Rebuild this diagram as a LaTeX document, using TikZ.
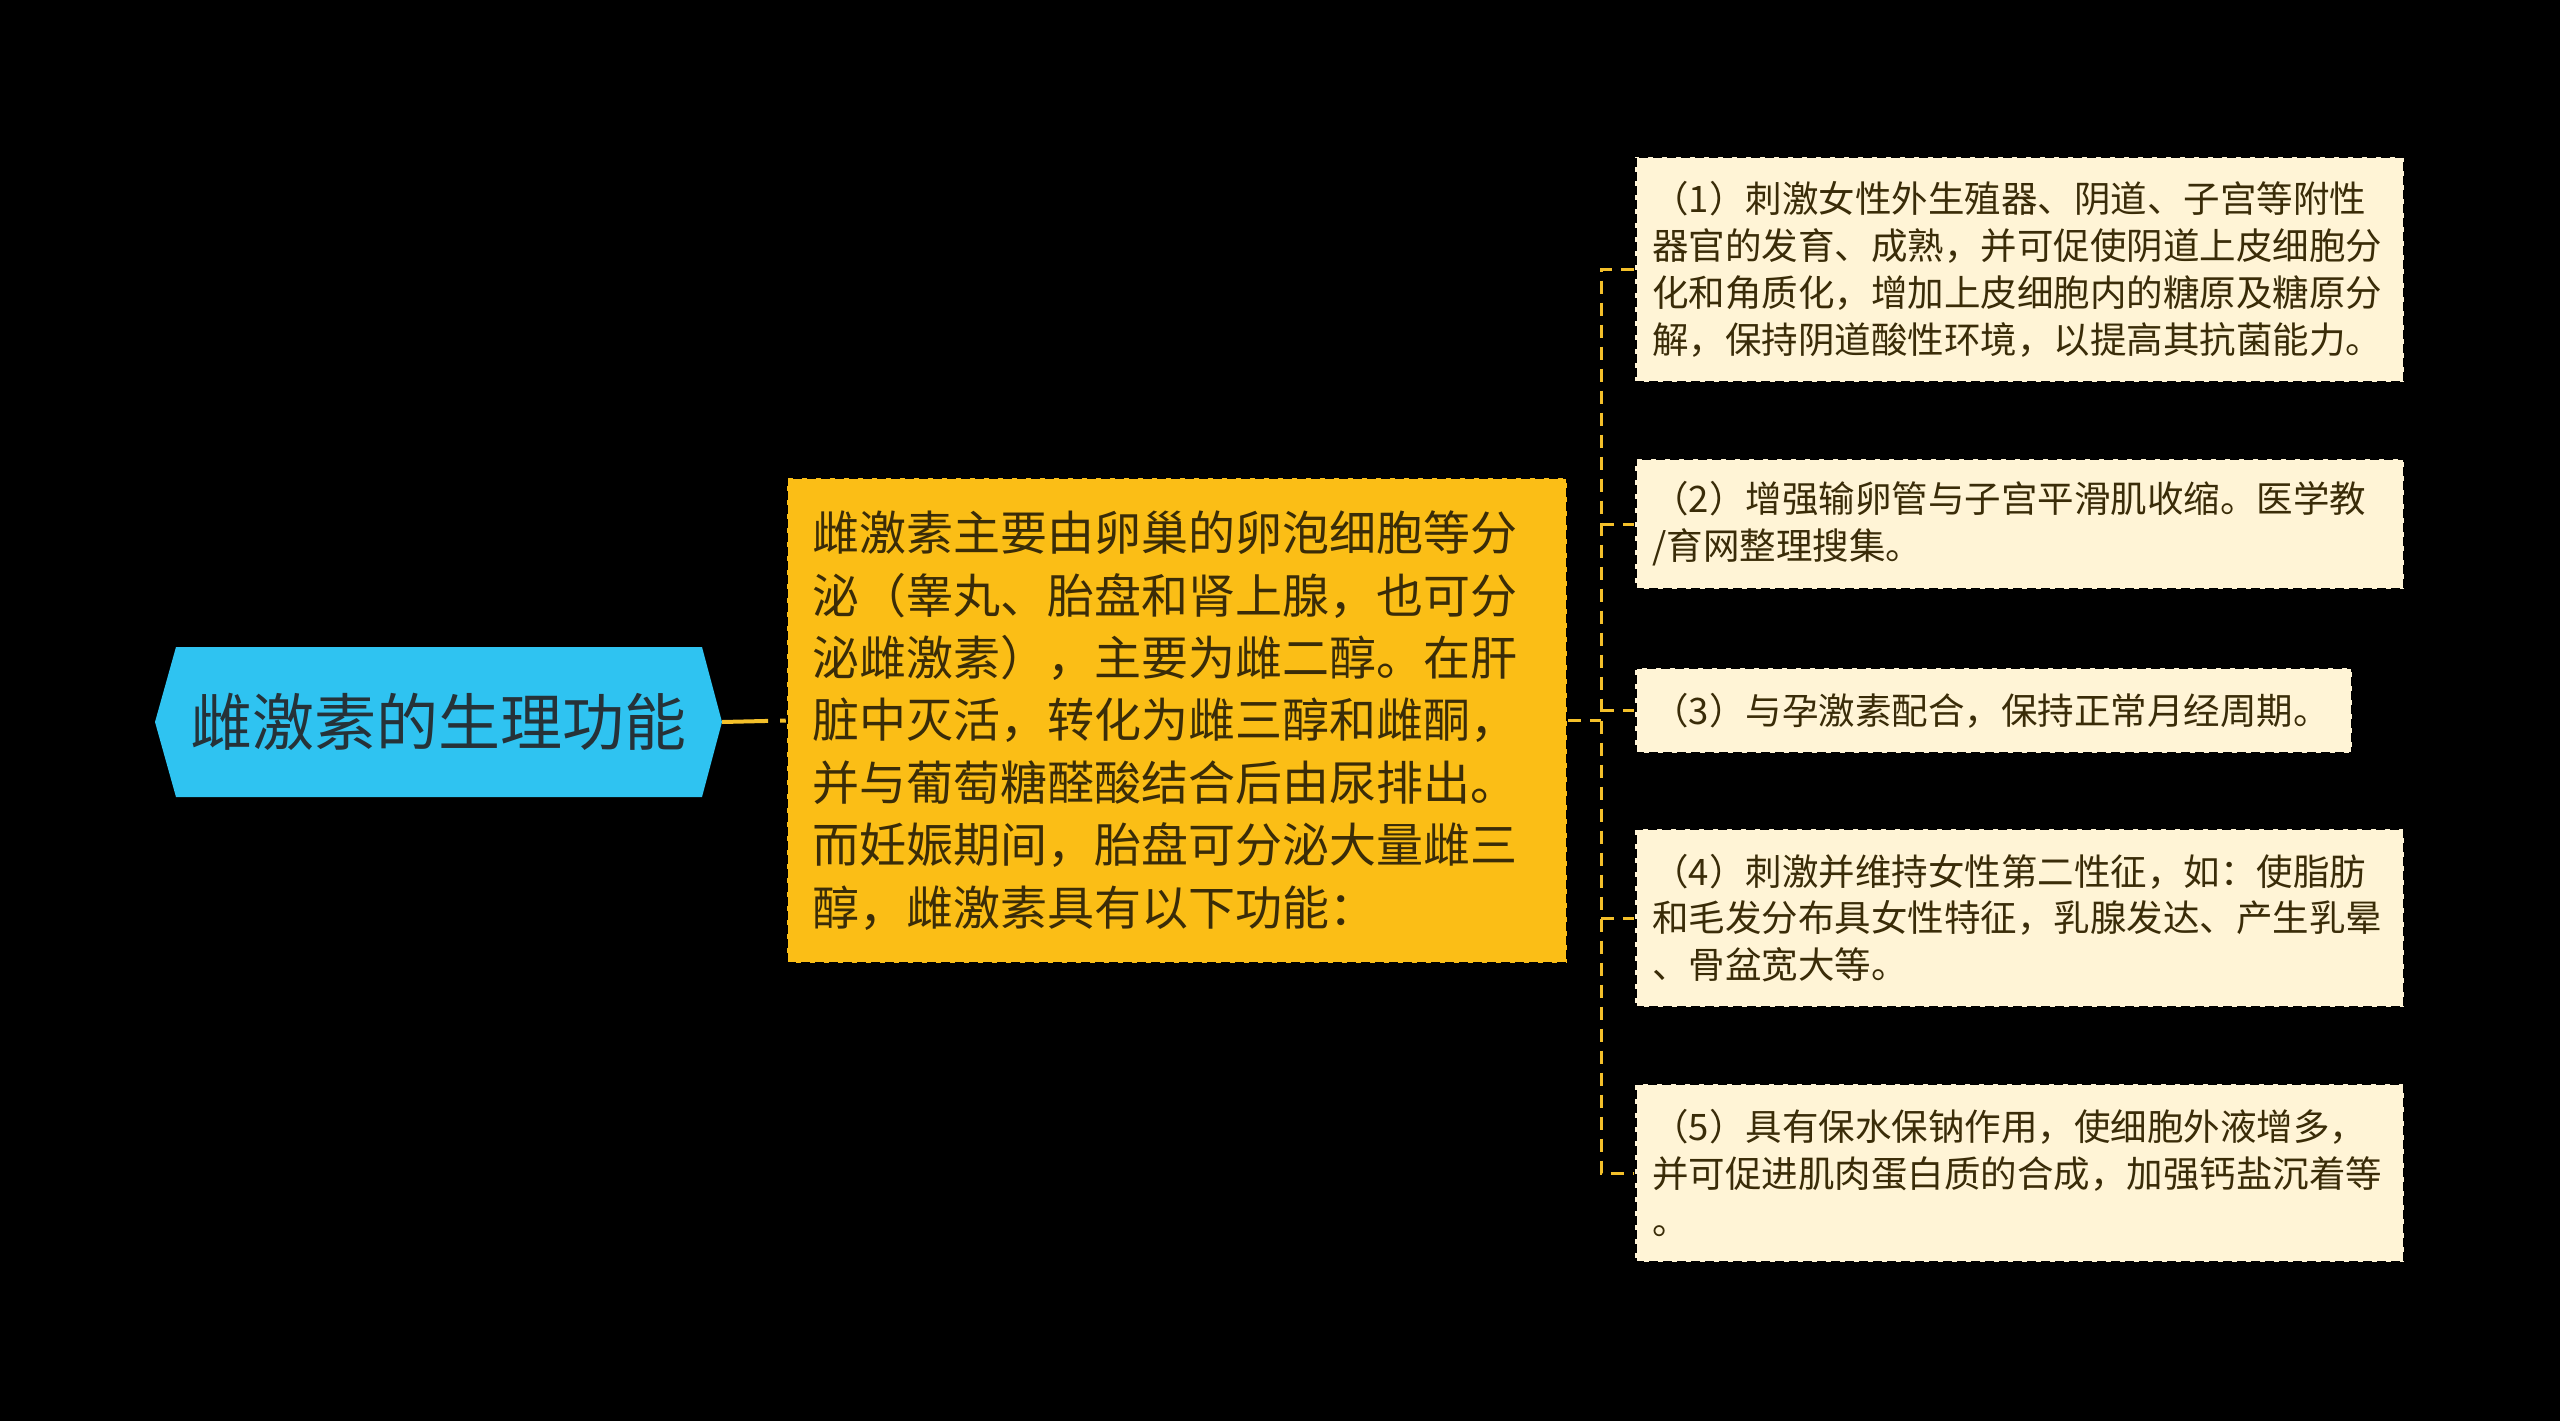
\documentclass[tikz,border=0pt]{standalone}
\usepackage{fontspec}
\setmainfont{Noto Sans CJK SC}
\definecolor{bg}{HTML}{000000}
\definecolor{rootblue}{HTML}{2FC3F1}
\definecolor{roottext}{HTML}{263238}
\definecolor{amber}{HTML}{FBBE16}
\definecolor{amberline}{HTML}{F4C02A}
\definecolor{cream}{HTML}{FFF4D6}
\definecolor{darktext}{HTML}{3A2C08}
\tikzset{
  centerbox/.style={rectangle, fill=amber, draw=black, line width=2.5pt, dash pattern=on 9pt off 5pt,
    inner xsep=25pt, inner ysep=0pt, text width=730pt, minimum width=780pt, minimum height=485pt,
    align=left, text=darktext, font=\fontsize{47}{62.4}\selectfont},
  childbox/.style={rectangle, fill=cream, draw=black, line width=2.5pt, dash pattern=on 9pt off 5pt,
    inner xsep=17pt, inner ysep=0pt, text width=735pt, minimum width=769pt,
    align=left, text=darktext, font=\fontsize{36.5}{46.8}\selectfont, anchor=west},
  rootconn/.style={draw=amberline, line width=4pt, dash pattern=on 46pt off 12pt},
  conn/.style={draw=amberline, line width=3pt, dash pattern=on 13pt off 9pt},
}
\begin{document}
\begin{tikzpicture}[x=1pt,y=-1pt]
\useasboundingbox (0,0) rectangle (2560,1421);
\fill[bg] (0,0) rectangle (2560,1421);

% root hexagon
\fill[rootblue] (155,722) -- (176,647) -- (702,647) -- (722,722) -- (702,797) -- (176,797) -- cycle;
\node (root) at (438.5,722) [inner sep=0pt, minimum width=567pt, minimum height=150pt,
  text=roottext, font=\fontsize{62}{70}\selectfont] {雌激素的生理功能};

% center box
\node (center) at (1177,720.5) [centerbox] {雌激素主要由卵巢的卵泡细胞等分\\泌（睾丸、胎盘和肾上腺，也可分\\泌雌激素），主要为雌二醇。在肝\\脏中灭活，转化为雌三醇和雌酮，\\并与葡萄糖醛酸结合后由尿排出。\\而妊娠期间，胎盘可分泌大量雌三\\醇，雌激素具有以下功能：};

% children
\node (c1) at (1634,269.5) [childbox, minimum height=225pt] {（1）刺激女性外生殖器、阴道、子宫等附性\\器官的发育、成熟，并可促使阴道上皮细胞分\\化和角质化，增加上皮细胞内的糖原及糖原分\\解，保持阴道酸性环境，以提高其抗菌能力。};
\node (c2) at (1634,524) [childbox, minimum height=130pt] {（2）增强输卵管与子宫平滑肌收缩。医学教\\/育网整理搜集。};
\node (c3) at (1634,710.5) [childbox, minimum height=85pt, text width=683pt, minimum width=717pt] {（3）与孕激素配合，保持正常月经周期。};
\node (c4) at (1634,918) [childbox, minimum height=178pt] {（4）刺激并维持女性第二性征，如：使脂肪\\和毛发分布具女性特征，乳腺发达、产生乳晕\\、骨盆宽大等。};
\node (c5) at (1634,1173) [childbox, minimum height=178pt] {（5）具有保水保钠作用，使细胞外液增多，\\并可促进肌肉蛋白质的合成，加强钙盐沉着等\\。};

% connectors
\coordinate (bus) at (1601,720.5);
\draw[rootconn] (root.east) -- (center.west);
\draw[conn] (center.east) -- (bus);
\draw[conn] (c1.west) -- (bus |- c1.west) -- (bus |- c5.west) -- (c5.west);
\draw[conn] (bus |- c2.west) -- (c2.west);
\draw[conn] (bus |- c3.west) -- (c3.west);
\draw[conn] (bus |- c4.west) -- (c4.west);
\end{tikzpicture}
\end{document}
